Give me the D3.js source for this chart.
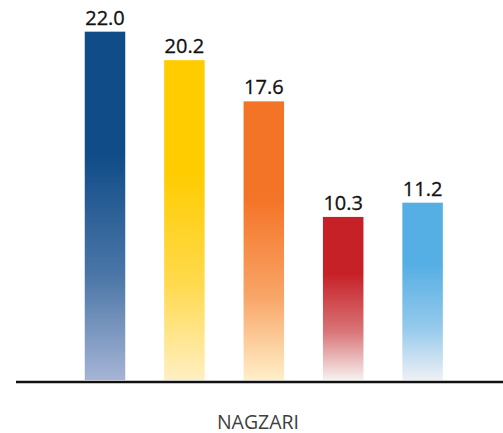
<!DOCTYPE html>
<html>
<head>
<meta charset="utf-8">
<script src="https://cdn.jsdelivr.net/npm/d3@7"></script>
<style>
  html, body { margin: 0; padding: 0; background: #fff; }
  text { font-family: "Open Sans", "Noto Sans", sans-serif; }
</style>
</head>
<body>
<div id="chart"></div>
<script>
// values
let categories = ["A", "B", "C", "D", "E"];
let values = [22.0, 20.2, 17.6, 10.3, 11.2];
let topColors = ["#0f4c88", "#ffcc00", "#f47427", "#c62127", "#56afe4"];
let bottomColors = ["#a5b4d5", "#ffefc2", "#ffefc8", "#f6f1ef", "#eef0f5"];
let axisTitle = "NAGZARI";

let width = 503;
let height = 433;

let svg = d3.select("#chart")
    .append("svg")
    .attr("width", width)
    .attr("height", height);

let x = d3.scaleBand()
    .domain(categories)
    .range([65.3, 462.3])
    .paddingInner(0.49)
    .paddingOuter(0.245);

let y = d3.scaleLinear()
    .domain([0, 24])
    .range([380, 0]);

// one vertical gradient per bar: solid at the top, fading toward the base
let defs = svg.append("defs");
categories.forEach(function (c, i) {
    let g = defs.append("linearGradient")
        .attr("id", "grad" + i)
        .attr("x1", 0).attr("y1", 0)
        .attr("x2", 0).attr("y2", 1);
    g.append("stop").attr("offset", "0").attr("stop-color", topColors[i]);
    g.append("stop").attr("offset", "0.35").attr("stop-color", topColors[i]);
    g.append("stop").attr("offset", "0.7")
        .attr("stop-color", d3.interpolateRgb(topColors[i], bottomColors[i])(0.4));
    g.append("stop").attr("offset", "1").attr("stop-color", bottomColors[i]);
});

svg.selectAll(".bar")
    .data(values)
    .enter()
    .append("rect")
    .attr("class", "bar")
    .attr("x", function (d, i) { return x(categories[i]); })
    .attr("y", function (d) { return y(d); })
    .attr("width", x.bandwidth())
    .attr("height", function (d) { return y(0) - y(d); })
    .attr("fill", function (d, i) { return "url(#grad" + i + ")"; });

svg.selectAll(".label")
    .data(values)
    .enter()
    .append("text")
    .attr("class", "label")
    .attr("x", function (d, i) { return x(categories[i]) + x.bandwidth() / 2; })
    .attr("y", function (d) { return y(d) - 7; })
    .attr("text-anchor", "middle")
    .attr("font-size", "20px")
    .attr("fill", "#111")
    .attr("stroke", "#111")
    .attr("stroke-width", 0.3)
    .text(function (d) { return d.toFixed(1); });

// baseline
svg.append("line")
    .attr("x1", 16)
    .attr("x2", width)
    .attr("y1", y(0) + 2)
    .attr("y2", y(0) + 2)
    .attr("stroke", "#111")
    .attr("stroke-width", 2.5);

svg.append("text")
    .attr("x", 258)
    .attr("y", 428.5)
    .attr("text-anchor", "middle")
    .attr("font-size", "19.5px")
    .attr("fill", "#404040")
    .text(axisTitle);
</script>
</body>
</html>
